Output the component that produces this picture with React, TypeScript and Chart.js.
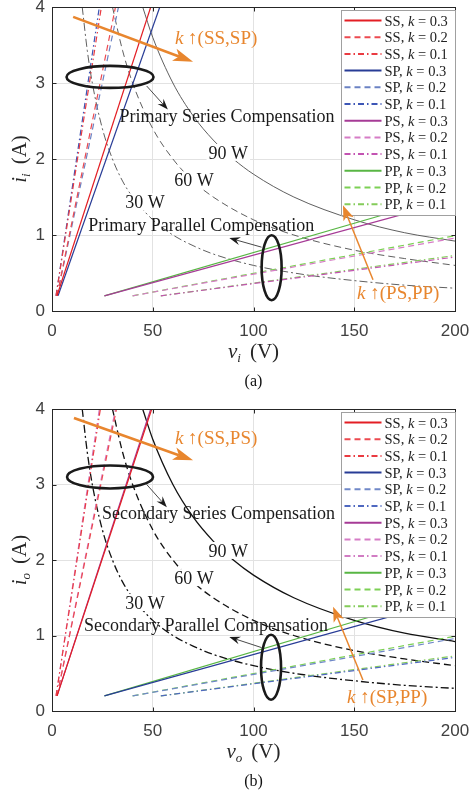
import React, { useEffect, useRef } from 'react';
import { Chart, registerables } from 'chart.js';

Chart.register(...registerables);

type Pt = [number, number];

// ---------- axes / labels ----------
const xTickValues = [0, 50, 100, 150, 200];
const yTickValues = [0, 1, 2, 3, 4];
const kLabels = ['0.3', '0.2', '0.1'];
const topologies = ['SS', 'SP', 'PS', 'PP'];
const powerLabels = ['30 W', '60 W', '90 W'];

// ---------- (a) primary side: v_i vs i_i ----------
const aSS03: Pt[] = [[2.5, 0.2], [49, 4]];
const aSS02: Pt[] = [[2.5, 0.2], [31.5, 4]];
const aSS01: Pt[] = [[2, 0.2], [24.5, 4]];
const aSP03: Pt[] = [[3, 0.2], [53.5, 4]];
const aSP02: Pt[] = [[2.5, 0.2], [33, 4]];
const aSP01: Pt[] = [[2, 0.2], [23.5, 4]];
const aPS03: Pt[] = [[26, 0.2], [200, 1.46]];
const aPS02: Pt[] = [[40, 0.2], [200, 0.96]];
const aPS01: Pt[] = [[54, 0.2], [200, 0.71]];
const aPP03: Pt[] = [[26, 0.2], [200, 1.54]];
const aPP02: Pt[] = [[40, 0.2], [200, 0.99]];
const aPP01: Pt[] = [[54, 0.2], [200, 0.73]];

// ---------- (b) secondary side: v_o vs i_o ----------
const bSS03: Pt[] = [[2.5, 0.2], [49.5, 4]];
const bSS02: Pt[] = [[2.5, 0.2], [32, 4]];
const bSS01: Pt[] = [[2, 0.2], [24, 4]];
const bSP03: Pt[] = [[26, 0.2], [200, 1.49]];
const bSP02: Pt[] = [[40, 0.2], [200, 0.96]];
const bSP01: Pt[] = [[54, 0.2], [200, 0.71]];
const bPS03: Pt[] = [[2.5, 0.2], [49, 4]];
const bPS02: Pt[] = [[2.5, 0.2], [31.5, 4]];
const bPS01: Pt[] = [[2, 0.2], [23.5, 4]];
const bPP03: Pt[] = [[26, 0.2], [200, 1.58]];
const bPP02: Pt[] = [[40, 0.2], [200, 0.99]];
const bPP01: Pt[] = [[54, 0.2], [200, 0.73]];

// ---------- constant power curves ----------
const power30: Pt[] = [[15, 4], [17.5, 3.43], [20, 3], [25, 2.4], [30, 2], [35, 1.71], [40, 1.5], [50, 1.2], [60, 1], [70, 0.86], [80, 0.75], [100, 0.6], [125, 0.48], [150, 0.4], [175, 0.34], [200, 0.3]];
const power60: Pt[] = [[30, 4], [35, 3.43], [40, 3], [50, 2.4], [60, 2], [70, 1.71], [80, 1.5], [100, 1.2], [120, 1], [150, 0.8], [175, 0.69], [200, 0.6]];
const power90: Pt[] = [[45, 4], [50, 3.6], [60, 3], [70, 2.57], [80, 2.25], [90, 2], [100, 1.8], [120, 1.5], [150, 1.2], [175, 1.03], [200, 0.92]];

// ---------- styles ----------
const colorsA: any = {
  SS: ['#e31e24', '#ec4a50', '#ea3b41'],
  SP: ['#283c96', '#6b82c4', '#3d56b6'],
  PS: ['#a63b96', '#d67cc6', '#c353b2'],
  PP: ['#58b644', '#7cd054', '#84cc5a'],
};
const colorsB: any = {
  SS: ['#e31e24', '#ec4a50', '#ea3b41'],
  SP: ['#283c96', '#7088c8', '#4f68c0'],
  PS: ['#a63b96', '#d67cc6', '#d17cc3'],
  PP: ['#58b644', '#7cd054', '#84cc5a'],
};
const kDashes = [[], [6, 4], [6, 3, 1.5, 3]];
const curveDashes = [[8, 3, 2, 3], [7, 4], []];

const SERIF = '"Liberation Serif", "DejaVu Serif", serif';
const SANS = '"Liberation Sans", Arial, sans-serif';
const ORANGE = '#e8862e';

const panelA = {
  id: 'a',
  series: { SS: [aSS03, aSS02, aSS01], SP: [aSP03, aSP02, aSP01], PS: [aPS03, aPS02, aPS01], PP: [aPP03, aPP02, aPP01] },
  colors: colorsA,
  curveColor: '#4d4d4d',
  curveWidth: 0.9,
  height: 400,
  top: 7,
  axisH: 89,
  sub: 'i',
  caption: '(a)',
  texts: [
    { v: 33.5, i: 2.57, s: 'Primary Series Compensation', align: 'left' },
    { v: 18, i: 1.13, s: 'Primary Parallel Compensation', align: 'left' },
  ],
  wLabels: [[46.2, 1.43], [70.5, 1.72], [87.5, 2.08]],
  orangeTexts: [
    { v: 61, i: 3.59, s: ' \u2191(SS,SP)' },
    { v: 151.4, i: 0.24, s: ' \u2191(PS,PP)' },
  ],
  ellipses: [
    { v: 28.8, i: 3.08, rx: 43.5, ry: 11 },
    { v: 109, i: 0.57, rx: 10, ry: 32.5 },
  ],
  thinArrows: [
    [47, 2.96, 57.5, 2.65],
    [104, 0.84, 88, 0.96],
  ],
  orangeArrows: [
    { f: [10.5, 3.87], t: [70, 3.28], w: 2.6, hl: 20, hw: 13 },
    { f: [159.3, 0.41], t: [144.4, 1.39], w: 1.5, hl: 15, hw: 11 },
  ],
};

const panelB = {
  id: 'b',
  series: { SS: [bSS03, bSS02, bSS01], SP: [bSP03, bSP02, bSP01], PS: [bPS03, bPS02, bPS01], PP: [bPP03, bPP02, bPP01] },
  colors: colorsB,
  curveColor: '#111111',
  curveWidth: 1.3,
  height: 401,
  top: 9,
  axisH: 90,
  sub: 'o',
  caption: '(b)',
  texts: [
    { v: 24.8, i: 2.62, s: 'Secondary Series Compensation', align: 'left' },
    { v: 15.9, i: 1.14, s: 'Secondary Parallel Compensation', align: 'left' },
  ],
  wLabels: [[46.2, 1.43], [70.5, 1.76], [87.5, 2.12]],
  orangeTexts: [
    { v: 61, i: 3.62, s: ' \u2191(SS,PS)' },
    { v: 146.4, i: 0.19, s: ' \u2191(SP,PP)' },
  ],
  ellipses: [
    { v: 28.8, i: 3.1, rx: 43, ry: 11.5 },
    { v: 108.7, i: 0.58, rx: 10, ry: 32.5 },
  ],
  thinArrows: [
    [47, 3.0, 57, 2.7],
    [104, 0.84, 88, 0.98],
  ],
  orangeArrows: [
    { f: [10.9, 3.88], t: [70, 3.32], w: 2.6, hl: 20, hw: 13 },
    { f: [154.3, 0.41], t: [139.5, 1.38], w: 1.5, hl: 15, hw: 11 },
  ],
};

function drawParts(ctx: any, parts: any[], x: number, y: number, size: number, color: string, align: string) {
  const fonts = parts.map((p) => `${p.it ? 'italic ' : ''}${p.size || size}px ${SERIF}`);
  const widths = parts.map((p, j) => {
    ctx.font = fonts[j];
    return ctx.measureText(p.t).width + (p.gap || 0);
  });
  const total = widths.reduce((s, w) => s + w, 0);
  let cx = align === 'center' ? x - total / 2 : x;
  ctx.fillStyle = color;
  ctx.textAlign = 'left';
  ctx.textBaseline = 'alphabetic';
  parts.forEach((p, j) => {
    ctx.font = fonts[j];
    ctx.fillText(p.t, cx + (p.gap || 0), y + (p.dy || 0));
    cx += widths[j];
  });
  return total;
}

function drawArrow(ctx: any, x1: number, y1: number, x2: number, y2: number, color: string, lw: number, hl: number, hw: number, inset: number) {
  const ang = Math.atan2(y2 - y1, x2 - x1);
  const c = Math.cos(ang), s = Math.sin(ang);
  const bx = x2 - hl * c, by = y2 - hl * s;
  const ix = x2 - hl * inset * c, iy = y2 - hl * inset * s;
  ctx.strokeStyle = color;
  ctx.lineWidth = lw;
  ctx.setLineDash([]);
  ctx.beginPath();
  ctx.moveTo(x1, y1);
  ctx.lineTo(ix, iy);
  ctx.stroke();
  ctx.fillStyle = color;
  ctx.beginPath();
  ctx.moveTo(x2, y2);
  ctx.lineTo(bx - (hw / 2) * s, by + (hw / 2) * c);
  ctx.lineTo(ix, iy);
  ctx.lineTo(bx + (hw / 2) * s, by - (hw / 2) * c);
  ctx.closePath();
  ctx.fill();
}

function makeOverlay(p: any) {
  return {
    id: 'overlay_' + p.id,
    afterDraw(chart: any) {
      const ctx = chart.ctx;
      const a = chart.chartArea;
      const xs = chart.scales.x;
      const ys = chart.scales.y;
      const P = (v: number, i: number) => [xs.getPixelForValue(v), ys.getPixelForValue(i)];
      ctx.save();

      // axes box and inward ticks
      ctx.strokeStyle = '#262626';
      ctx.lineWidth = 1;
      ctx.setLineDash([]);
      const L = Math.round(a.left) + 0.5, R = Math.round(a.right) + 0.5;
      const T = Math.round(a.top) + 0.5, B = Math.round(a.bottom) + 0.5;
      ctx.strokeRect(L, T, R - L, B - T);
      ctx.beginPath();
      xTickValues.forEach((v) => {
        const X = Math.round(xs.getPixelForValue(v)) + 0.5;
        ctx.moveTo(X, B); ctx.lineTo(X, B - 4);
        ctx.moveTo(X, T); ctx.lineTo(X, T + 4);
      });
      yTickValues.forEach((v) => {
        const Y = Math.round(ys.getPixelForValue(v)) + 0.5;
        ctx.moveTo(L, Y); ctx.lineTo(L + 4, Y);
        ctx.moveTo(R, Y); ctx.lineTo(R - 4, Y);
      });
      ctx.stroke();

      // region labels
      p.texts.forEach((t: any) => {
        const [x, y] = P(t.v, t.i);
        drawParts(ctx, [{ t: t.s }], x, y + 6, 18, '#1a1a1a', t.align);
      });

      // power labels with white background
      p.wLabels.forEach((w: any, j: number) => {
        const [x, y] = P(w[0], w[1]);
        ctx.font = `18px ${SERIF}`;
        const tw = ctx.measureText(powerLabels[j]).width;
        ctx.fillStyle = '#ffffff';
        ctx.fillRect(x - tw / 2 - 2, y - 9, tw + 4, 17);
        drawParts(ctx, [{ t: powerLabels[j] }], x, y + 6, 18, '#1a1a1a', 'center');
      });

      // ellipses
      ctx.strokeStyle = '#1a1a1a';
      ctx.lineWidth = 2.6;
      p.ellipses.forEach((e: any) => {
        const [x, y] = P(e.v, e.i);
        ctx.beginPath();
        ctx.ellipse(x, y, e.rx, e.ry, 0, 0, Math.PI * 2);
        ctx.stroke();
      });

      // thin black arrows
      p.thinArrows.forEach((ar: any) => {
        const [x1, y1] = P(ar[0], ar[1]);
        const [x2, y2] = P(ar[2], ar[3]);
        drawArrow(ctx, x1, y1, x2, y2, '#1a1a1a', 0.8, 11, 8, 0.65);
      });

      // legend
      const lx = Math.round(a.right) - 113.5;
      const ly = Math.round(a.top) + 3.5;
      const lw = 114, lh = 205;
      ctx.fillStyle = '#ffffff';
      ctx.fillRect(lx, ly, lw, lh);
      ctx.strokeStyle = '#a0a0a0';
      ctx.lineWidth = 1;
      ctx.strokeRect(lx, ly, lw, lh);
      let row = 0;
      topologies.forEach((tp) => {
        kLabels.forEach((k, kj) => {
          const yy = ly + 10 + row * 16.7;
          ctx.strokeStyle = p.colors[tp][kj];
          ctx.lineWidth = 2;
          ctx.setLineDash(kDashes[kj]);
          ctx.beginPath();
          ctx.moveTo(lx + 3, yy);
          ctx.lineTo(lx + 40, yy);
          ctx.stroke();
          ctx.setLineDash([]);
          drawParts(ctx, [{ t: tp + ', ' }, { t: 'k', it: true }, { t: ' = ' + k }], lx + 43, yy + 5, 14.5, '#222222', 'left');
          row++;
        });
      });

      // orange arrows and labels
      p.orangeArrows.forEach((ar: any) => {
        const [x1, y1] = P(ar.f[0], ar.f[1]);
        const [x2, y2] = P(ar.t[0], ar.t[1]);
        drawArrow(ctx, x1, y1, x2, y2, ORANGE, ar.w, ar.hl, ar.hw, 0.75);
      });
      p.orangeTexts.forEach((t: any) => {
        const [x, y] = P(t.v, t.i);
        drawParts(ctx, [{ t: 'k', it: true }, { t: t.s }], x, y + 6, 19, ORANGE, 'left');
      });

      // axis titles
      const cxm = (a.left + a.right) / 2;
      drawParts(ctx, [{ t: 'v', it: true }, { t: p.sub, it: true, size: 13, dy: 4 }, { t: '(V)', gap: 9 }], cxm, a.bottom + 47, 21, '#262626', 'center');
      ctx.save();
      ctx.translate(26, (a.top + a.bottom) / 2);
      ctx.rotate(-Math.PI / 2);
      drawParts(ctx, [{ t: 'i', it: true }, { t: p.sub, it: true, size: 13, dy: 4 }, { t: '(A)', gap: 9 }], 0, 0, 21, '#262626', 'center');
      ctx.restore();

      // caption
      drawParts(ctx, [{ t: p.caption }], cxm, a.bottom + 75, 16, '#111111', 'center');

      ctx.restore();
    },
  };
}

function ChartPanel({ p }: { p: any }) {
  const ref = useRef<HTMLCanvasElement | null>(null);
  useEffect(() => {
    if (!ref.current) return;
    const datasets: any[] = [];
    topologies.forEach((tp) => {
      kLabels.forEach((k, kj) => {
        datasets.push({
          label: `${tp}, k = ${k}`,
          data: p.series[tp][kj].map((d: Pt) => ({ x: d[0], y: d[1] })),
          borderColor: p.colors[tp][kj],
          borderWidth: 1.2,
          borderDash: kDashes[kj],
          pointRadius: 0,
          fill: false,
          tension: 0,
        });
      });
    });
    [power30, power60, power90].forEach((c, j) => {
      datasets.push({
        label: powerLabels[j],
        data: c.map((d) => ({ x: d[0], y: d[1] })),
        borderColor: p.curveColor,
        borderWidth: p.curveWidth,
        borderDash: curveDashes[j],
        pointRadius: 0,
        fill: false,
        cubicInterpolationMode: 'monotone',
      });
    });
    const chart = new Chart(ref.current, {
      type: 'line',
      data: { datasets },
      plugins: [makeOverlay(p)],
      options: {
        responsive: false,
        animation: false,
        devicePixelRatio: 1,
        layout: { padding: { top: p.top, right: 14, left: 0, bottom: 0 } },
        plugins: { legend: { display: false }, tooltip: { enabled: false } },
        scales: {
          x: {
            type: 'linear',
            min: 0,
            max: 200,
            afterFit: (s: any) => {
              s.height = p.axisH;
              s.paddingLeft = 0;
              s.paddingRight = 0;
            },
            afterBuildTicks: (s: any) => { s.ticks = xTickValues.map((v) => ({ value: v })); },
            grid: { color: '#e2e2e2', lineWidth: 1, drawTicks: false },
            border: { display: false },
            ticks: { padding: 10, color: '#404040', font: { family: SANS, size: 17 } },
          },
          y: {
            type: 'linear',
            min: 0,
            max: 4,
            afterFit: (s: any) => {
              s.width = 52;
              s.paddingTop = 0;
              s.paddingBottom = 0;
            },
            afterBuildTicks: (s: any) => { s.ticks = yTickValues.map((v) => ({ value: v })); },
            grid: { color: '#e2e2e2', lineWidth: 1, drawTicks: false },
            border: { display: false },
            ticks: { padding: 7, color: '#404040', font: { family: SANS, size: 17 } },
          },
        },
      } as any,
    });
    return () => chart.destroy();
  }, [p]);
  return (
    <div style={{ width: 469, height: p.height }}>
      <canvas ref={ref} width={469} height={p.height} style={{ display: 'block' }} />
    </div>
  );
}

export default function App() {
  return (
    <div style={{ position: 'absolute', left: 0, top: 0, width: 469, height: 801, background: '#ffffff' }}>
      <ChartPanel p={panelA} />
      <ChartPanel p={panelB} />
    </div>
  );
}
